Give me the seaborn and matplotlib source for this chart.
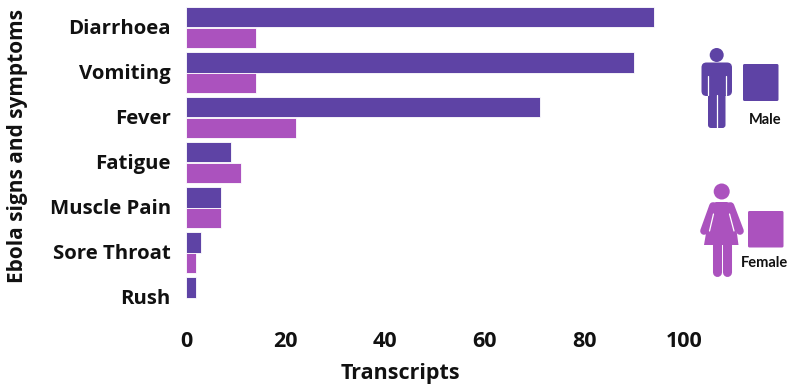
import matplotlib
matplotlib.use("Agg")
import matplotlib.pyplot as plt
from matplotlib.patches import Circle, FancyBboxPatch, Polygon
from matplotlib.lines import Line2D
from matplotlib.transforms import ScaledTranslation
import numpy as np
import pandas as pd
import seaborn as sns

symptoms = ["Diarrhoea", "Vomiting", "Fever", "Fatigue", "Muscle Pain", "Sore Throat", "Rush"]
male = [94, 90, 71, 9, 7, 3, 2]
female = [14, 14, 22, 11, 7, 2, 0]
x_ticks = [0, 20, 40, 60, 80, 100]

MALE_COLOR = "#5E43A5"
FEMALE_COLOR = "#AB52BE"
W, H = 790, 387

sns.set_theme(style="white")
plt.rcParams["font.family"] = ["Open Sans", "DejaVu Sans"]

df = pd.DataFrame({
    "symptom": symptoms * 2,
    "sex": ["Male"] * len(symptoms) + ["Female"] * len(symptoms),
    "count": male + female,
})

fig = plt.figure(figsize=(W / 100, H / 100), dpi=100, facecolor="white")
ax = fig.add_axes([186 / W, 1 - 320 / H, 498 / W, 315 / H])
sns.barplot(
    data=df, y="symptom", x="count", hue="sex", order=symptoms,
    hue_order=["Male", "Female"], palette=[MALE_COLOR, FEMALE_COLOR],
    width=0.93, saturation=1, legend=False, ax=ax,
    edgecolor="white", linewidth=0.6,
)
ax.set_xlim(0, 100)
ax.set_ylim(6.5, -0.5)
ax.set_xticks(x_ticks)
ax.tick_params(axis="x", length=0, pad=8)
ax.tick_params(axis="y", length=0, pad=11)
for lab in ax.get_xticklabels():
    lab.set_fontsize(15.5)
    lab.set_fontweight("bold")
    lab.set_color("#111111")
nudge = ScaledTranslation(0, 1 / 100, fig.dpi_scale_trans)
for lab in ax.get_yticklabels():
    lab.set_fontsize(14.7)
    lab.set_fontweight("bold")
    lab.set_color("#111111")
    lab.set_transform(lab.get_transform() + nudge)
ax.set_xlabel("")
ax.set_ylabel("")
sns.despine(ax=ax, left=True, bottom=True)

fig.text(400 / W, 1 - 374 / H, "Transcripts", ha="center", va="center",
         fontsize=15.5, fontweight="bold", color="#111111")
fig.text(18 / W, 1 - 146 / H, "Ebola signs and symptoms", ha="center", va="center",
         rotation=90, fontsize=15, fontweight="bold", color="#111111")

# Pictogram legend, laid out on a pixel grid spanning the figure
key = fig.add_axes([0, 0, 1, 1], facecolor="none")
key.set_xlim(0, W)
key.set_ylim(H, 0)
key.axis("off")


def rounded(x0, y0, x1, y1, color, r=2.0):
    key.add_patch(FancyBboxPatch((x0 + r, y0 + r), x1 - x0 - 2 * r, y1 - y0 - 2 * r,
                                 boxstyle=f"round,pad={r},rounding_size={r}",
                                 fc=color, ec="none"))


def limb(p0, p1, color, width):
    key.add_line(Line2D([p0[0], p1[0]], [p0[1], p1[1]], color=color, lw=width,
                        solid_capstyle="round"))


# Male figure
key.add_patch(Circle((716.7, 55), 7, fc=MALE_COLOR, ec="none"))
rounded(701.5, 62.5, 732, 96, MALE_COLOR, r=5)
rounded(708, 70, 725.5, 128, MALE_COLOR, r=3)
limb((708, 76), (708, 95), "white", 0.9)
limb((725.5, 76), (725.5, 95), "white", 0.9)
limb((716.7, 95), (716.7, 128), "white", 0.9)
rounded(743, 64, 778.5, 101, MALE_COLOR, r=1.5)
key.text(765, 120, "Male", ha="center", va="center", fontsize=10.5,
         fontweight="bold", family="Lato", color="#111111")

# Female figure
key.add_patch(Circle((721.7, 191.5), 8, fc=FEMALE_COLOR, ec="none"))
key.add_patch(Polygon([(711, 204), (716, 202), (727, 202), (733, 204), (738.5, 245), (704, 245)],
                      closed=True, fc=FEMALE_COLOR, ec="none"))
limb((713, 206), (704, 231), FEMALE_COLOR, 5.5)
limb((730.5, 206), (740, 231), FEMALE_COLOR, 5.5)
limb((713.5, 214), (709.5, 231), "white", 0.9)
limb((729.5, 214), (734, 231), "white", 0.9)
limb((716.5, 240), (716.5, 272), FEMALE_COLOR, 6.5)
limb((727, 240), (727, 272), FEMALE_COLOR, 6.5)
rounded(748, 211, 783.5, 247.5, FEMALE_COLOR, r=1.5)
key.text(765, 263, "Female", ha="center", va="center", fontsize=10.5,
         fontweight="bold", family="Lato", color="#111111")

fig.savefig("out.png", dpi=100, facecolor="white")
